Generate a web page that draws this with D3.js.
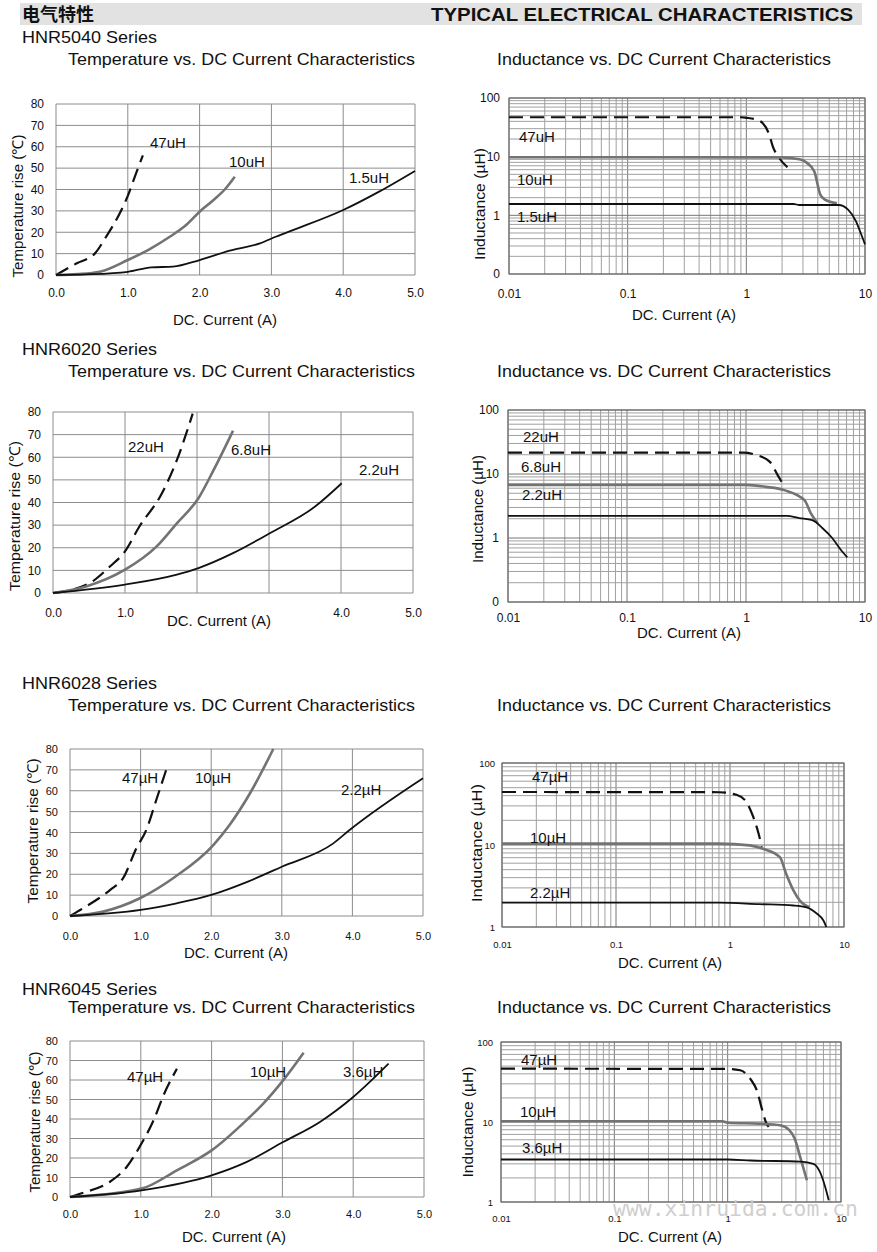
<!DOCTYPE html>
<html><head><meta charset="utf-8">
<script src="https://cdn.jsdelivr.net/npm/d3@7"></script>
<style>
body{margin:0;background:#fff}
svg{display:block}
text{font-family:"Liberation Sans",Arial,sans-serif;fill:#111}
</style>
</head><body>
<svg id="c" width="877" height="1252"></svg>
<script>
// ---------------- DATA ----------------
const headerCN = "电气特性";
const headerEN = "TYPICAL ELECTRICAL CHARACTERISTICS";
const seriesNames = ["HNR5040 Series","HNR6020 Series","HNR6028 Series","HNR6045 Series"];
const titleTemp = "Temperature vs. DC Current Characteristics";
const titleInd = "Inductance vs. DC Current Characteristics";
const xTitle = "DC. Current (A)";
const yTitleTemp = "Temperature rise (℃)";
const yTitleInd = "Inductance (µH)";
const watermark = "www.xinruida.com.cn";

const tempTicksX = [0,1,2,3,4,5];
const tempTickLabelsX = ["0.0","1.0","2.0","3.0","4.0","5.0"];
const tempTicksX6020 = [0,1,4,5];
const tempTickLabelsX6020 = ["0.0","1.0","4.0","5.0"];
const tempTicksY = [0,10,20,30,40,50,60,70,80];
const indTicksX = [0.01,0.1,1,10];
const indTickLabelsX = ["0.01","0.1","1","10"];
const indTicksY3 = [0.1,1,10,100];
const indTickLabelsY3 = ["0","1","10","100"];
const indTicksY2 = [1,10,100];
const indTickLabelsY2 = ["1","10","100"];

// HNR5040 temperature rise [A, °C]
const t5040_47uH = [[0,0],[0.29,5.5],[0.54,10],[0.7,18],[0.89,29],[1.0,37],[1.12,48],[1.21,56]];
const t5040_10uH = [[0,0],[0.3,0.4],[0.61,1.5],[1.0,7],[1.3,12],[1.59,18],[1.8,23],[2.0,29.6],[2.19,35],[2.35,40],[2.49,46]];
const t5040_1_5uH = [[0,0],[0.43,0.3],[1.0,1.5],[1.33,3.6],[1.63,3.9],[2.0,7],[2.42,11.4],[2.84,14.8],[3.07,18],[3.3,21],[4.0,30.4],[4.5,39],[5.0,48.7]];
// HNR5040 inductance [A, µH]
const l5040_47uH = [[0.01,47],[0.9,47],[1.0,46],[1.2,43],[1.37,37.5],[1.56,23.7],[1.67,15],[1.89,9.5],[2.22,6.6]];
const l5040_10uH = [[0.01,9.8],[2.0,9.7],[2.8,9.0],[3.2,8.0],[3.74,5.6],[4.2,2.25],[4.6,1.85],[5.8,1.6]];
const l5040_1_5uH = [[0.01,1.56],[2.5,1.56],[2.8,1.5],[6.0,1.5],[7.2,1.25],[8.4,0.79],[9.2,0.5],[10,0.32]];

// HNR6020 temperature rise
const t6020_22uH = [[0,0],[0.51,4.4],[0.79,11.7],[1.0,18.4],[1.2,29.4],[1.5,43.3],[1.72,58.7],[1.94,79.3]];
const t6020_6_8uH = [[0,0],[0.46,2.9],[1.0,10.3],[1.44,20.6],[1.72,30.8],[2.02,41.9],[2.23,54.3],[2.5,71.7]];
const t6020_2_2uH = [[0,0],[1.0,3.7],[1.72,8.1],[2.02,11],[2.5,17.6],[3.01,26.4],[3.64,38.2],[4.01,48.5]];
// HNR6020 inductance
const l6020_22uH = [[0.01,21.6],[0.95,21.6],[1.21,19.9],[1.58,15.6],[1.84,9.7],[2.1,6.4]];
const l6020_6_8uH = [[0.01,6.76],[1.0,6.76],[1.47,6.3],[2.1,5.6],[3.1,3.9],[3.5,2.45],[4.0,1.7]];
const l6020_2_2uH = [[0.01,2.22],[2.2,2.22],[2.8,2.05],[3.6,1.9],[4.4,1.42],[5.3,1.0],[6.4,0.62],[7.1,0.5]];

// HNR6028 temperature rise
const t6028_47uH = [[0,0],[0.17,3.4],[0.57,12.5],[0.75,18],[0.94,32.4],[1.08,41.2],[1.23,56.4],[1.37,70.8]];
const t6028_10uH = [[0,0],[0.47,2.1],[0.99,8.5],[1.49,18.8],[2.03,34],[2.26,43.6],[2.55,58.8],[2.88,80]];
const t6028_2_2uH = [[0,0],[1.0,2.9],[1.51,6.1],[2.0,10.1],[2.52,16.5],[3.0,23.6],[3.73,34.8],[3.96,41.2],[5.0,66]];
// HNR6028 inductance
const l6028_47uH = [[0.01,44.3],[0.8,44],[1.14,41],[1.39,33.5],[1.6,22],[1.78,13.8],[1.9,9.5]];
const l6028_10uH = [[0.01,10.4],[0.8,10.4],[1.49,9.9],[1.95,9.0],[2.74,7.1],[3.1,4.5],[3.6,2.8],[4.1,2.1],[5.0,1.74]];
const l6028_2_2uH = [[0.01,1.98],[0.8,1.98],[1.8,1.9],[3.6,1.83],[4.7,1.74],[5.8,1.45],[6.6,1.2],[7.0,1.0]];

// HNR6045 temperature rise
const t6045_47uH = [[0,0],[0.19,2.2],[0.56,7.7],[0.8,15.4],[1.01,27.4],[1.18,39.3],[1.32,52.1],[1.51,65.8]];
const t6045_10uH = [[0,0],[1.01,4.3],[1.51,13.7],[2.0,23.9],[2.49,39.3],[2.73,47.9],[3.01,59.8],[3.3,74]];
const t6045_3_6uH = [[0,0],[1.01,3.4],[2.0,11.1],[2.49,17.9],[3.01,28.2],[3.53,38.5],[4.0,51.3],[4.5,68.4]];
// HNR6045 inductance
const l6045_47uH = [[0.01,46.4],[1.0,46],[1.29,44.3],[1.58,34.8],[1.83,23.7],[2.0,14.7],[2.2,9.6],[2.3,8.7]];
const l6045_10uH = [[0.01,10.2],[0.9,10.2],[1.0,9.8],[1.93,9.5],[2.9,9.1],[3.5,7.9],[3.9,6.2],[4.4,3.5],[5.0,1.87]];
const l6045_3_6uH = [[0.01,3.4],[1.0,3.4],[1.6,3.3],[4.4,3.2],[5.7,3.0],[6.5,2.4],[7.2,1.6],[7.8,1.05]];

// ---------------- DRAW ----------------
const svg = d3.select("#c");
const styles = {
  dash:{stroke:"#111",width:2.2,dash:"14,7"},
  gray:{stroke:"#737373",width:2.6,dash:null},
  solid:{stroke:"#111",width:1.8,dash:null}
};

// header
svg.append("rect").attr("x",20).attr("y",3).attr("width",842).attr("height",22).attr("fill","#e2e2e2");
svg.append("text").attr("x",22).attr("y",21).attr("font-size",18).attr("font-weight","bold")
  .style("font-family","'Noto Sans CJK SC',sans-serif").text(headerCN);
svg.append("text").attr("x",853).attr("y",21).attr("text-anchor","end").attr("font-size",18).attr("font-weight","bold")
  .attr("textLength",422).attr("lengthAdjust","spacingAndGlyphs").text(headerEN);

const sectionY = [43,355,689,995];
const titleY = [65,377,711,1013];
seriesNames.forEach((s,i)=>{
  svg.append("text").attr("x",22).attr("y",sectionY[i]).attr("font-size",17)
    .attr("textLength",135).attr("lengthAdjust","spacingAndGlyphs").text(s);
  svg.append("text").attr("x",68).attr("y",titleY[i]).attr("font-size",17)
    .attr("textLength",347).attr("lengthAdjust","spacingAndGlyphs").text(titleTemp);
  svg.append("text").attr("x",497).attr("y",titleY[i]).attr("font-size",17)
    .attr("textLength",334).attr("lengthAdjust","spacingAndGlyphs").text(titleInd);
});

function drawSeries(g, series, x, y){
  const line = d3.line().x(d=>x(d[0])).y(d=>y(d[1])).curve(d3.curveMonotoneX);
  series.forEach(s=>{
    const st = styles[s.style];
    g.append("path").datum(s.data).attr("d",line).attr("fill","none")
      .attr("stroke",st.stroke).attr("stroke-width",st.width)
      .attr("stroke-dasharray",st.dash).attr("stroke-linejoin","round");
    g.append("text").attr("x",s.lx).attr("y",s.ly).attr("font-size",s.fs||15).text(s.label);
  });
}

function axes(g, x, y, c, xt, xl, yt, yl){
  const ax = g.append("g").attr("transform",`translate(0,${c.B})`)
    .call(d3.axisBottom(x).tickValues(xt).tickFormat((d,i)=>xl[i]).tickSize(0).tickPadding(c.xPad));
  ax.select(".domain").remove();
  ax.selectAll("text").attr("font-size",c.tfs).style("font-family","'Liberation Sans',Arial,sans-serif").attr("fill","#111");
  const ay = g.append("g").attr("transform",`translate(${c.L},0)`)
    .call(d3.axisLeft(y).tickValues(yt).tickFormat((d,i)=>yl[i]).tickSize(0).tickPadding(c.yPad));
  ay.select(".domain").remove();
  ay.selectAll("text").attr("font-size",c.tfs).style("font-family","'Liberation Sans',Arial,sans-serif").attr("fill","#111");
  // titles
  g.append("text").attr("x",c.xtX).attr("y",c.xtY).attr("text-anchor","middle").attr("font-size",c.afs||15).text(xTitle);
  g.append("text").attr("transform",`translate(${c.ytX},${c.ytY}) rotate(-90)`).attr("text-anchor","middle")
    .attr("dy","0.35em").attr("font-size",c.afs||15)
    .attr("textLength",c.ytLen).attr("lengthAdjust","spacingAndGlyphs").text(c.yTitle);
}

function tempPanel(c, series, xt, xl){
  const g = svg.append("g");
  const x = d3.scaleLinear().domain([0,5]).range([c.L,c.R]);
  const y = d3.scaleLinear().domain([0,80]).range([c.B,c.T]);
  g.selectAll(".vg").data(tempTicksX).join("line").attr("x1",d=>x(d)).attr("x2",d=>x(d))
    .attr("y1",c.T).attr("y2",c.B).attr("stroke","#8c8c8c").attr("stroke-width",1);
  g.selectAll(".hg").data(tempTicksY).join("line").attr("y1",d=>y(d)).attr("y2",d=>y(d))
    .attr("x1",c.L).attr("x2",c.R).attr("stroke","#8c8c8c").attr("stroke-width",1);
  axes(g,x,y,{...c,yTitle:yTitleTemp},xt,xl,tempTicksY,tempTicksY.map(String));
  drawSeries(g,series,x,y);
}

function logGrid(lo,hi){
  const v=[];
  for(let d=lo; d<hi*0.999; d*=10){ for(let k=1;k<10;k++) v.push(+(d*k).toPrecision(3)); }
  v.push(hi); return v;
}

function indPanel(c, series, yMin, yt, yl){
  const g = svg.append("g");
  const x = d3.scaleLog().domain([0.01,10]).range([c.L,c.R]);
  const y = d3.scaleLog().domain([yMin,100]).range([c.B,c.T]);
  const gx = logGrid(0.01,10), gy = logGrid(yMin,100);
  g.selectAll(".vg").data(gx).join("line").attr("x1",d=>x(d)).attr("x2",d=>x(d))
    .attr("y1",c.T).attr("y2",c.B).attr("stroke",d=>indTicksX.includes(d)?"#777":"#a0a0a0").attr("stroke-width",1);
  g.selectAll(".hg").data(gy).join("line").attr("y1",d=>y(d)).attr("y2",d=>y(d))
    .attr("x1",c.L).attr("x2",c.R).attr("stroke",d=>yt.includes(d)?"#777":"#a0a0a0").attr("stroke-width",1);
  g.append("rect").attr("x",c.L).attr("y",c.T).attr("width",c.R-c.L).attr("height",c.B-c.T)
    .attr("fill","none").attr("stroke","#666").attr("stroke-width",1);
  axes(g,x,y,{...c,yTitle:yTitleInd},indTicksX,indTickLabelsX,yt,yl);
  drawSeries(g,series,x,y);
}

// HNR5040
tempPanel({L:56,R:415,T:104,B:275,xPad:13,yPad:12,tfs:12,xtX:225,xtY:325,ytX:18,ytY:206,ytLen:143},[
  {data:t5040_47uH,style:"dash",label:"47uH",lx:150,ly:148},
  {data:t5040_10uH,style:"gray",label:"10uH",lx:229,ly:167},
  {data:t5040_1_5uH,style:"solid",label:"1.5uH",lx:349,ly:183}
],tempTicksX,tempTickLabelsX);
indPanel({L:509,R:865,T:98,B:274,xPad:15,yPad:9,tfs:12,xtX:684,xtY:320,ytX:480,ytY:204,ytLen:112},[
  {data:l5040_47uH,style:"dash",label:"47uH",lx:519,ly:142},
  {data:l5040_10uH,style:"gray",label:"10uH",lx:517,ly:185},
  {data:l5040_1_5uH,style:"solid",label:"1.5uH",lx:517,ly:222}
],0.1,indTicksY3,indTickLabelsY3);

// HNR6020
tempPanel({L:53,R:413,T:412,B:593,xPad:15,yPad:12,tfs:12,xtX:219,xtY:626,ytX:15,ytY:516,ytLen:150},[
  {data:t6020_22uH,style:"dash",label:"22uH",lx:128,ly:452},
  {data:t6020_6_8uH,style:"gray",label:"6.8uH",lx:231,ly:455},
  {data:t6020_2_2uH,style:"solid",label:"2.2uH",lx:359,ly:475}
],tempTicksX6020,tempTickLabelsX6020);
indPanel({L:508,R:865,T:410,B:602,xPad:11,yPad:9,tfs:12,xtX:689,xtY:638,ytX:478,ytY:509,ytLen:108},[
  {data:l6020_22uH,style:"dash",label:"22uH",lx:523,ly:442},
  {data:l6020_6_8uH,style:"gray",label:"6.8uH",lx:521,ly:472},
  {data:l6020_2_2uH,style:"solid",label:"2.2uH",lx:522,ly:500}
],0.1,indTicksY3,indTickLabelsY3);

// HNR6028
tempPanel({L:70,R:423,T:749,B:916,xPad:16,yPad:12,tfs:11,xtX:236,xtY:958,ytX:33,ytY:831,ytLen:145},[
  {data:t6028_47uH,style:"dash",label:"47µH",lx:122,ly:783},
  {data:t6028_10uH,style:"gray",label:"10µH",lx:195,ly:783},
  {data:t6028_2_2uH,style:"solid",label:"2.2µH",lx:341,ly:795}
],tempTicksX,tempTickLabelsX);
indPanel({L:502,R:844,T:763,B:927,xPad:14,yPad:7,tfs:9.5,xtX:670,xtY:968,ytX:477,ytY:843,ytLen:118},[
  {data:l6028_47uH,style:"dash",label:"47µH",lx:532,ly:782},
  {data:l6028_10uH,style:"gray",label:"10µH",lx:530,ly:843},
  {data:l6028_2_2uH,style:"solid",label:"2.2µH",lx:530,ly:898}
],1,indTicksY2,indTickLabelsY2);

// HNR6045
tempPanel({L:70,R:424,T:1041,B:1197,xPad:13,yPad:12,tfs:11,xtX:234,xtY:1242,ytX:35,ytY:1122,ytLen:141},[
  {data:t6045_47uH,style:"dash",label:"47µH",lx:127,ly:1082},
  {data:t6045_10uH,style:"gray",label:"10µH",lx:250,ly:1077},
  {data:t6045_3_6uH,style:"solid",label:"3.6µH",lx:343,ly:1077}
],tempTicksX,tempTickLabelsX);
indPanel({L:501,R:841,T:1042,B:1202,xPad:13.5,yPad:8,tfs:9.5,xtX:670,xtY:1242,ytX:468,ytY:1122,ytLen:111},[
  {data:l6045_47uH,style:"dash",label:"47µH",lx:521,ly:1065},
  {data:l6045_10uH,style:"gray",label:"10µH",lx:520,ly:1117},
  {data:l6045_3_6uH,style:"solid",label:"3.6µH",lx:522,ly:1153}
],1,indTicksY2,indTickLabelsY2);

// watermark
svg.append("text").attr("x",613).attr("y",1216).attr("font-size",21)
  .style("font-family","'DejaVu Sans Mono',monospace").style("fill","#cfcfcf")
  .attr("textLength",245).attr("lengthAdjust","spacingAndGlyphs").text(watermark);
</script>
</body></html>
